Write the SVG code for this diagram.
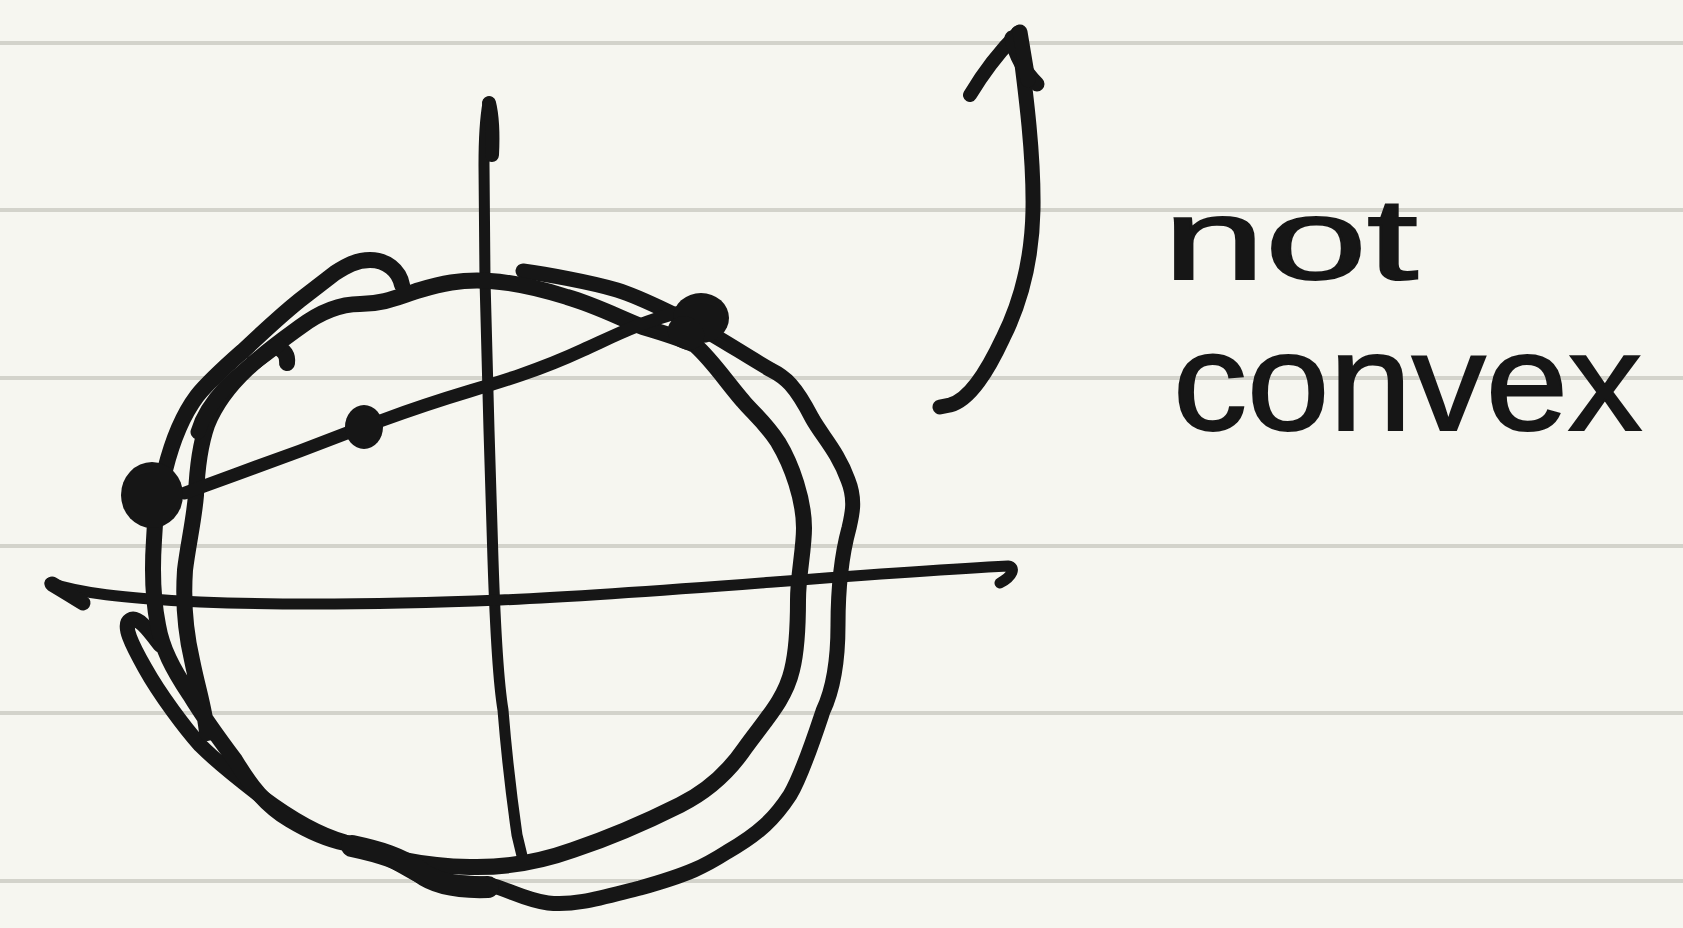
<svg xmlns="http://www.w3.org/2000/svg" width="1683" height="928" viewBox="0 0 1683 928">
<style>
.rule{stroke:#d3d3cb;stroke-width:4;fill:none}
.ink{stroke:#161616;fill:none;stroke-linecap:round;stroke-linejoin:round}
.dot{fill:#161616}
.hand{font-family:"Liberation Sans","DejaVu Sans",sans-serif;fill:#161616;stroke:#161616;stroke-width:2}
</style>
<rect width="1683" height="928" fill="#f6f6f0"/>
<g id="paper">
<line class="rule" x1="0" y1="43" x2="1683" y2="43"/>
<line class="rule" x1="0" y1="210" x2="1683" y2="210"/>
<line class="rule" x1="0" y1="378" x2="1683" y2="378"/>
<line class="rule" x1="0" y1="546" x2="1683" y2="546"/>
<line class="rule" x1="0" y1="713" x2="1683" y2="713"/>
<line class="rule" x1="0" y1="881" x2="1683" y2="881"/>
</g>
<g id="axes">
<path class="ink" stroke-width="11" d="M488,103 C485,120 484,140 484,165 L485,280 L489,430 L493,560 C495,620 498,680 503,710 C507,760 512,800 517,835 L523,860"/>
<path class="ink" stroke-width="14" d="M489,103 C492,115 493,135 492,155"/>
<path class="ink" stroke-width="11" d="M50,583 C80,593 120,598 200,602 C300,606 400,604 500,600 C650,594 850,574 1008,566 C1016,567 1013,576 1000,583"/>
<path class="ink" stroke-width="15" d="M52,584 C62,590 72,596 83,603"/>
</g>
<g id="curves">
<path class="ink" stroke-width="15" d="M523,271 C545,274 590,282 617,290 C640,297 660,308 690,322 C715,335 745,355 771,370 C785,377 795,385 812,418 C822,436 838,452 848,480 C856,500 852,515 849,528 C843,550 838,580 838,625 C838,660 833,690 823,711 C815,735 802,775 790,795 C775,818 760,833 727,852 C705,866 690,874 640,888 C600,898 575,906 548,903 C525,900 510,890 490,885 C470,882 440,884 420,876 C400,866 380,850 345,842 C320,835 290,818 262,797 C240,780 220,765 200,745 C185,728 160,695 145,668 C132,645 122,625 130,620 C138,615 150,632 160,645"/>
<path class="ink" stroke-width="16" d="M402,285 C399,270 386,260 370,260 C356,260 346,266 335,273 L300,300 C280,316 262,333 243,351 C226,366 210,380 197,396 C182,416 172,442 165,470 C160,490 155,510 154,540 C152,570 153,600 158,625 C162,648 172,668 190,695 C205,720 220,740 235,760 C250,785 265,805 290,820 C310,832 330,840 345,843 C390,858 420,866 470,867 C510,868 545,860 573,850 C600,841 640,825 680,805 C710,790 730,770 745,748 C765,720 785,700 792,670 C797,650 798,630 798,600 C798,575 804,550 804,528 C804,500 792,465 778,442 C765,422 752,412 743,401 C725,380 712,360 695,345 C680,338 660,332 643,327 C620,318 595,305 567,297 C545,290 520,283 490,281 C460,279 440,284 420,290 C400,296 385,304 360,304 C340,304 320,312 300,327 C285,338 265,352 247,369 C230,385 215,405 207,425 C200,445 197,470 196,495 C194,520 188,545 185,570 C183,600 185,630 192,660 C198,690 205,710 207,733"/>
<path class="ink" stroke-width="16" d="M276,347 C285,350 288,356 287,363"/>
<path class="ink" stroke-width="15" d="M278,345 C258,360 240,372 225,388 C212,402 203,415 198,432"/>
<path class="ink" stroke-width="22" d="M352,846 C380,852 400,858 420,872 C435,884 460,888 488,887"/>
<path class="ink" stroke-width="13" d="M185,493 C220,480 270,462 300,451 L347,433 L383,420 C410,410 440,400 470,391 C500,382 540,370 583,350 C610,338 640,322 680,312"/>
</g>
<g id="points">
<ellipse class="dot" cx="152" cy="495" rx="31" ry="33"/>
<ellipse class="dot" cx="364" cy="427" rx="19" ry="22"/>
<ellipse class="dot" cx="701" cy="318" rx="28" ry="25"/>
<ellipse class="dot" cx="686" cy="333" rx="19" ry="16" transform="rotate(30 686 333)"/>
</g>
<g id="arrow">
<path class="ink" stroke-width="15" d="M1018,33 C1024,80 1034,150 1033,210 C1032,260 1022,300 1003,338 C988,370 970,400 950,405 L940,407"/>
<path class="ink" stroke-width="14" d="M1018,33 C1003,48 985,70 970,95"/>
<path class="ink" stroke-width="15" d="M1012,38 C1015,55 1025,72 1037,84"/>
<path class="ink" stroke-width="15" d="M1020,32 L1028,80"/>
</g>
<g id="label">
<text class="hand" x="1163" y="279" font-size="115" textLength="255" lengthAdjust="spacingAndGlyphs">not</text>
<text class="hand" x="1173" y="430" font-size="140" textLength="469" lengthAdjust="spacingAndGlyphs">convex</text>
</g>
</svg>
